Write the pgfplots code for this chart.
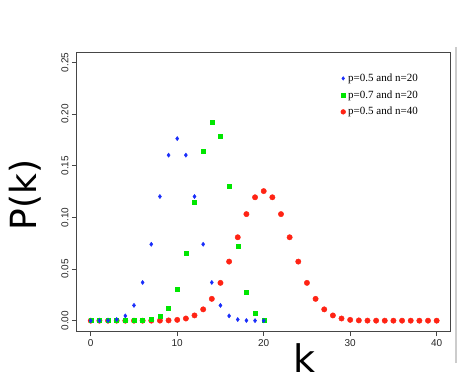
\documentclass[border=0pt]{standalone}
\usepackage{fontspec}
\setmainfont{Liberation Serif}
\newfontfamily\lsans{Liberation Sans}
\newfontfamily\dsans{DejaVu Sans}
\usepackage{pgfplots}
\pgfplotsset{compat=1.18}
\definecolor{bluep}{RGB}{25,45,250}
\definecolor{greenp}{RGB}{0,230,0}
\definecolor{redp}{RGB}{255,35,20}
\definecolor{boxc}{RGB}{70,70,70}
\begin{document}
\begin{tikzpicture}[x=1pt,y=1pt]
\path[use as bounding box] (0,0) rectangle (463,389);
\draw[line width=2pt, black!20] (456,26) -- (456,342);
\begin{axis}[
  at={(76.9pt,58pt)}, anchor=south west,
  scale only axis, width=373.6pt, height=279pt,
  xmin=-1.6, xmax=41.6, ymin=-0.01, ymax=0.26,
  axis line style={boxc, line width=0.9pt},
  xtick={0,10,20,30,40},
  ytick={0,0.05,0.10,0.15,0.20,0.25},
  tick align=outside, tick pos=left,
  major tick length=5pt,
  tick style={boxc, line width=0.8pt},
  /pgf/number format/assume math mode=true,
  ticklabel style={font=\lsans\fontsize{10}{12}\selectfont, text=black!85},
  yticklabel style={rotate=90, anchor=south, /pgf/number format/fixed, /pgf/number format/fixed zerofill, /pgf/number format/precision=2},
  xticklabel style={/pgf/number format/fixed},
  legend style={draw=none, fill=none, at={(rel axis cs:0.7016,0.926)}, anchor=north west,
    font=\fontsize{11}{12}\selectfont, row sep=5.6pt, inner sep=0pt, nodes={inner sep=1pt}},
  legend cell align=left,
  legend image code/.code={\path[draw=none,fill=none] (0pt,0pt) -- (8pt,0pt); \draw[mark repeat=2,mark phase=2,#1] plot coordinates {(0pt,0pt)(4pt,0pt)(8pt,0pt)};},
  clip=false,
]
\addlegendimage{only marks, mark=diamond*, mark size=1.8pt, bluep}
\addlegendentry{p=0.5 and n=20}
\addlegendimage{only marks, mark=square*, mark size=1.8pt, greenp}
\addlegendentry{p=0.7 and n=20}
\addlegendimage{only marks, mark=*, mark size=2.4pt, redp}
\addlegendentry{p=0.5 and n=40}

% p=0.5, n=40
\addplot[forget plot, only marks, mark=*, mark size=2.7pt, redp, mark options={draw=redp, fill=redp}] coordinates {
(0,0.0000000000009) (1,0.000000000036) (2,0.00000000071) (3,0.000000009) (4,0.000000083)
(5,0.000000598) (6,0.00000349) (7,0.000017) (8,0.0000699) (9,0.000249)
(10,0.000771) (11,0.002103) (12,0.005081) (13,0.010944) (14,0.021106)
(15,0.036584) (16,0.057163) (17,0.080701) (18,0.103118) (19,0.119401)
(20,0.125371)
(21,0.119401) (22,0.103118) (23,0.080701) (24,0.057163) (25,0.036584)
(26,0.021106) (27,0.010944) (28,0.005081) (29,0.002103) (30,0.000771)
(31,0.000249) (32,0.0000699) (33,0.000017) (34,0.00000349) (35,0.000000598)
(36,0.000000083) (37,0.000000009) (38,0.00000000071) (39,0.000000000036) (40,0.0000000000009)
};
% p=0.7, n=20
\addplot[forget plot, only marks, mark=square*, mark size=2.0pt, greenp, mark options={draw=greenp, fill=greenp}] coordinates {
(0,0.00000000003) (1,0.0000000016) (2,0.000000036) (3,0.000000504) (4,0.000005)
(5,0.0000373) (6,0.000218) (7,0.001018) (8,0.003859) (9,0.012007)
(10,0.030817) (11,0.065370) (12,0.114397) (13,0.164262) (14,0.191639)
(15,0.178863) (16,0.130421) (17,0.071604) (18,0.027846) (19,0.006839)
(20,0.000798)
};
% p=0.5, n=20
\addplot[forget plot, only marks, mark=diamond*, mark size=2.1pt, bluep, mark options={draw=bluep, fill=bluep}] coordinates {
(0,0.00000095) (1,0.0000191) (2,0.000181) (3,0.001087) (4,0.004621)
(5,0.014786) (6,0.036964) (7,0.073929) (8,0.120134) (9,0.160179)
(10,0.176197) (11,0.160179) (12,0.120134) (13,0.073929) (14,0.036964)
(15,0.014786) (16,0.004621) (17,0.001087) (18,0.000181) (19,0.0000191)
(20,0.00000095)
};
\node[font=\dsans\fontsize{36}{40}\selectfont, rotate=90, anchor=center] at (rel axis cs:-0.139,0.487) {P(k)};
\node[font=\dsans\fontsize{38}{40}\selectfont, anchor=base] at (rel axis cs:0.608,-0.147) {k};
\end{axis}
\end{tikzpicture}
\end{document}
